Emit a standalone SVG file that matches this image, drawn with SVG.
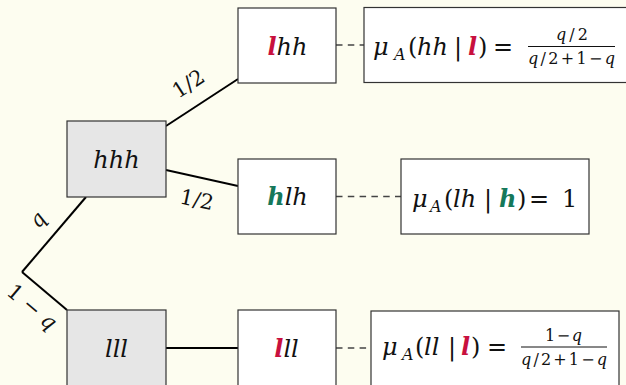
<svg xmlns="http://www.w3.org/2000/svg" width="626" height="385" viewBox="0 0 626 385" font-family="DejaVu Serif, serif">
<style>
text{fill:#111}
.i{font-style:italic}
.up{font-style:normal}
.n{font-size:24px;font-style:italic}
.m{font-size:24px;font-style:italic}
.sub{font-size:16px;font-style:italic}
.fr{font-size:16px;font-style:italic}
.lab{font-size:21px}
.bl{font-weight:bold;font-style:italic}
.red{fill:#c8103e}
.grn{fill:#15785a}
.box{fill:#ffffff;stroke:#333;stroke-width:1.2}
.gbox{fill:#e6e6e6;stroke:#333;stroke-width:1.2}
.edge{stroke:#000;stroke-width:2;fill:none}
.dash{stroke:#444;stroke-width:1.4;stroke-dasharray:6.5 5.3;fill:none}
.bar{stroke:#111;stroke-width:1}
</style>
<rect x="0" y="0" width="626" height="385" fill="#fdfdf0"/>

<g id="connectors" font-family="DejaVu Serif, serif">
<line class="edge" x1="22" y1="272" x2="86" y2="197"/>
<line class="edge" x1="22" y1="272" x2="67" y2="310"/>
<line class="edge" x1="166" y1="126" x2="238" y2="79"/>
<line class="edge" x1="166" y1="170" x2="238" y2="186"/>
<line class="edge" x1="166" y1="348" x2="238" y2="348"/>
<line class="dash" x1="336" y1="45" x2="364" y2="45"/>
<line class="dash" x1="336" y1="196.5" x2="401" y2="196.5"/>
<line class="dash" x1="336" y1="348" x2="371" y2="348"/>
<text class="lab" text-anchor="middle" transform="translate(188,83) rotate(-33)" y="8">1/2</text>
<text class="lab" text-anchor="middle" transform="translate(197,199) rotate(12)" y="8">1/2</text>
<text class="lab i" text-anchor="middle" transform="translate(39,221) rotate(-50)" y="5">q</text>
<text class="lab" text-anchor="middle" transform="translate(32,307) rotate(40)" y="7">1 − <tspan class="i">q</tspan></text>
</g>

<g id="node-hhh" font-family="DejaVu Serif, serif">
<rect class="gbox" x="67" y="121" width="99" height="76"/>
<text class="n" x="116.5" y="168" text-anchor="middle">hhh</text>
</g>
<g id="node-lll" font-family="DejaVu Serif, serif">
<rect class="gbox" x="67" y="310" width="99" height="76"/>
<text class="n" x="116.5" y="357" text-anchor="middle">lll</text>
</g>
<g id="node-lhh" font-family="DejaVu Serif, serif">
<rect class="box" x="238" y="8" width="98" height="75"/>
<text class="n" x="287.5" y="55" text-anchor="middle"><tspan class="bl red">l</tspan>hh</text>
</g>
<g id="node-hlh" font-family="DejaVu Serif, serif">
<rect class="box" x="238" y="159" width="98" height="75"/>
<text class="n" x="287.5" y="205" text-anchor="middle"><tspan class="bl grn">h</tspan>lh</text>
</g>
<g id="node-lll2" font-family="DejaVu Serif, serif">
<rect class="box" x="238" y="310" width="98" height="76"/>
<text class="n" x="286.5" y="357" text-anchor="middle"><tspan class="bl red">l</tspan>ll</text>
</g>

<g id="belief-lhh" font-family="DejaVu Serif, serif">
<rect class="box" x="364" y="7.5" width="280" height="75"/>
<text class="m" y="55"><tspan x="373">μ</tspan><tspan class="sub" x="394" y="60">A</tspan><tspan class="up" x="408" y="55">(</tspan><tspan x="417">hh</tspan><tspan class="up" x="454">|</tspan><tspan class="bl red" x="468">l</tspan><tspan class="up" x="478">)</tspan><tspan class="up" x="493">=</tspan></text>
<line class="bar" x1="528" y1="46.5" x2="615" y2="46.5"/>
<text class="fr" x="556" y="40" textLength="32" lengthAdjust="spacing">q<tspan class="up">/2</tspan></text>
<text class="fr" x="528" y="64" textLength="87" lengthAdjust="spacing">q<tspan class="up">/2+1−</tspan>q</text>
</g>

<g id="belief-hlh" font-family="DejaVu Serif, serif">
<rect class="box" x="401" y="159" width="188" height="75"/>
<text class="m" y="207"><tspan x="412">μ</tspan><tspan class="sub" x="430" y="212">A</tspan><tspan class="up" x="444" y="207">(</tspan><tspan x="453">lh</tspan><tspan class="up" x="484">|</tspan><tspan class="bl grn" x="499">h</tspan><tspan class="up" x="517">)</tspan><tspan class="up" x="529">=</tspan><tspan class="up" x="562">1</tspan></text>
</g>

<g id="belief-lll" font-family="DejaVu Serif, serif">
<rect class="box" x="371" y="311" width="248" height="76"/>
<text class="m" y="355"><tspan x="382">μ</tspan><tspan class="sub" x="402" y="360">A</tspan><tspan class="up" x="415" y="355">(</tspan><tspan x="424">ll</tspan><tspan class="up" x="448">|</tspan><tspan class="bl red" x="461">l</tspan><tspan class="up" x="471">)</tspan><tspan class="up" x="487">=</tspan></text>
<line class="bar" x1="521" y1="347" x2="607" y2="347"/>
<text class="fr" x="545" y="341" textLength="37" lengthAdjust="spacing"><tspan class="up">1−</tspan>q</text>
<text class="fr" x="521" y="365" textLength="86" lengthAdjust="spacing">q<tspan class="up">/2+1−</tspan>q</text>
</g>
</svg>
